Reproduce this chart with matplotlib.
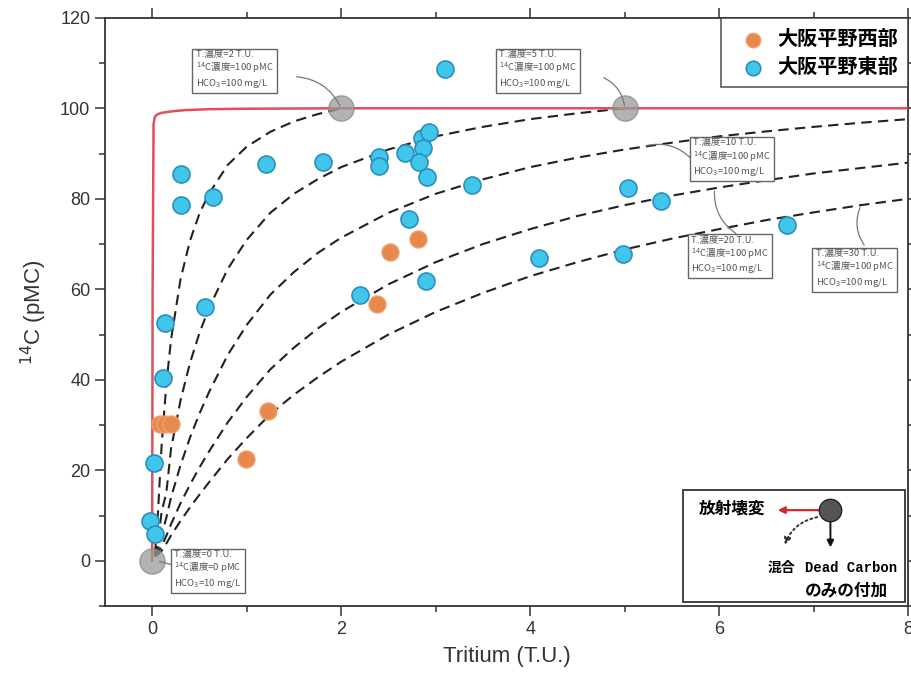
import matplotlib.pyplot as plt
import numpy as np
from matplotlib.patches import Rectangle
from matplotlib.ticker import MultipleLocator

plt.rcParams['font.family'] = ['Liberation Sans', 'Noto Sans CJK JP', 'DejaVu Sans']
JP = ['Noto Sans CJK JP', 'DejaVu Sans']

# measured samples (tritium T.U., 14C pMC)
west_t = [0.08, 0.14, 0.2, 0.99, 1.23, 2.38, 2.52, 2.81]
west_c = [30.3, 30.3, 30.3, 22.4, 33.2, 56.7, 68.2, 71.1]

east_t = [3.10, 0.31, 0.30, 0.64, 1.20, 1.81, 2.40, 2.40, 2.67, 2.85, 2.93, 2.87, 2.82,
          2.91, 3.38, 2.72, 5.03, 5.38, 6.72, 4.09, 4.98, 2.90, 2.20, 0.56, 0.14, 0.11,
          0.02, -0.02, 0.03]
east_c = [108.7, 85.5, 78.6, 80.4, 87.7, 88.1, 89.3, 87.3, 90.1, 93.5, 94.8, 91.2, 88.1,
          84.8, 83.1, 75.5, 82.4, 79.5, 74.2, 66.9, 67.8, 61.8, 58.7, 56.0, 52.5, 40.5,
          21.7, 8.9, 6.0]

# end members
end_t = [0, 2, 5]
end_c = [0, 100, 100]

# decay line (red)
decay_t = [0.0, 0.005, 0.015, 0.03, 0.06, 0.1, 0.2, 0.35, 0.6, 1.0, 2.0, 8.0]
decay_c = [0.0, 60.0, 96.5, 98.2, 98.7, 99.0, 99.3, 99.6, 99.8, 99.9, 100.0, 100.0]

# mixing curves
grid = [0.03, 0.06, 0.1, 0.15, 0.2, 0.3, 0.4, 0.5, 0.6, 0.8, 1.0, 1.25, 1.5, 1.75, 2.0,
        2.5, 3.0, 3.5, 4.0, 4.5, 5.0, 5.5, 6.0, 6.5, 7.0, 7.5, 8.0]
mix_2tu = [1.5, 10.0, 25.4, 39.0, 48.9, 62.2, 70.7, 76.7, 81.1, 87.5, 91.5, 94.8, 97.1,
           98.7, 100.0]
mix_5tu = [1.0, 3.9, 10.8, 15.0, 24.8, 35.4, 43.7, 50.3, 55.8, 64.5, 70.9, 76.9, 81.1,
           84.3, 87.0, 90.9, 93.8, 95.9, 97.6, 98.9, 100.0]
mix_10tu = [1.0, 2.5, 5.7, 9.5, 14.0, 21.1, 27.2, 32.5, 37.2, 45.5, 52.1, 58.8, 63.8, 68.0,
            71.4, 76.9, 81.1, 84.3, 87.0, 89.1, 90.9, 92.4, 93.8, 94.9, 95.9, 96.8, 97.6]
mix_20tu = [1.0, 1.8, 3.2, 5.5, 8.1, 12.7, 16.8, 20.6, 24.1, 30.6, 36.2, 42.3, 47.1, 51.3,
            55.0, 61.1, 66.0, 70.0, 73.3, 76.2, 78.6, 80.7, 82.5, 84.1, 85.6, 86.8, 88.0]
mix_30tu = [1.0, 1.4, 2.2, 3.8, 5.6, 8.8, 11.8, 14.6, 17.3, 22.5, 27.1, 32.4, 36.7, 40.5,
            44.0, 50.0, 55.0, 59.2, 62.9, 66.0, 68.8, 71.2, 73.3, 75.3, 77.0, 78.6, 80.0]

fig = plt.figure(figsize=(9.12, 6.84), dpi=100)
ax = fig.add_axes([0.115, 0.114, 0.881, 0.86])

for ys in [mix_2tu, mix_5tu, mix_10tu, mix_20tu, mix_30tu]:
    ax.plot(grid[:len(ys)], ys, color='#222222', lw=1.5, ls=(0, (5, 3)), zorder=2)

ax.plot(decay_t, decay_c, color='#e0505a', lw=1.8, zorder=3)

ax.scatter(end_t, end_c, s=330, color='#9a9a9a', alpha=0.75, edgecolor='#888888',
           lw=1, zorder=4)

ax.scatter(west_t, west_c, s=150, color='#e8894c', edgecolor='#f0a070', lw=1,
           zorder=5, label='大阪平野西部')
ax.scatter(east_t, east_c, s=150, color='#3fc6ea', edgecolor='#2a8fc0', lw=1.2,
           zorder=5, label='大阪平野東部')

# annotation boxes
boxes = [
    (0.46, 108.5, 'T.濃度=2 T.U.\n$^{14}$C濃度=100 pMC\nHCO$_3$=100 mg/L', (2.0, 100.0), (1.5, 107), -0.3),
    (3.67, 108.5, 'T.濃度=5 T.U.\n$^{14}$C濃度=100 pMC\nHCO$_3$=100 mg/L', (5.0, 100.0), (4.75, 107), -0.3),
    (5.72, 89.0, 'T.濃度=10 T.U.\n$^{14}$C濃度=100 pMC\nHCO$_3$=100 mg/L', (5.2, 91.6), (5.72, 88.5), 0.3),
    (5.70, 67.5, 'T.濃度=20 T.U.\n$^{14}$C濃度=100 pMC\nHCO$_3$=100 mg/L', (5.95, 82.3), (6.2, 72.0), -0.3),
    (7.02, 64.5, 'T.濃度=30 T.U.\n$^{14}$C濃度=100 pMC\nHCO$_3$=100 mg/L', (7.5, 78.6), (7.55, 69.3), -0.3),
    (0.23, -2.0, 'T.濃度=0 T.U.\n$^{14}$C濃度=0 pMC\nHCO$_3$=10 mg/L', (0.05, 0.0), (0.23, -1.0), 0.0),
]
for x, y, txt, tip, base, rad in boxes:
    ax.text(x, y, txt, fontsize=6.8, family=JP, va='center', ha='left', color='#555555',
            linespacing=1.15, zorder=6,
            bbox=dict(boxstyle='square,pad=0.35', fc='white', ec='#666666', lw=1))
    ax.annotate('', xy=tip, xytext=base, zorder=5,
                arrowprops=dict(arrowstyle='-', color='#777777', lw=0.9,
                                connectionstyle=f'arc3,rad={rad}'))

ax.set_xlim(-0.5, 8)
ax.set_ylim(-10, 120)
ax.xaxis.set_major_locator(MultipleLocator(2))
ax.xaxis.set_minor_locator(MultipleLocator(1))
ax.yaxis.set_major_locator(MultipleLocator(20))
ax.yaxis.set_minor_locator(MultipleLocator(10))
ax.tick_params(which='both', direction='out', top=True, right=True, labelsize=13,
               color='#333333', labelcolor='#333333', width=1.1)
ax.tick_params(which='major', length=7)
ax.tick_params(which='minor', length=4)
for s in ax.spines.values():
    s.set_linewidth(1.3)
    s.set_color('#333333')

ax.set_xlabel('Tritium (T.U.)', fontsize=16, color='#333333', labelpad=6)
ax.set_ylabel('$^{14}$C (pMC)', fontsize=16, color='#333333', labelpad=8)

leg = ax.legend(loc='upper right', prop={'family': JP, 'size': 14.5, 'weight': 'bold'},
                frameon=True, fancybox=False, edgecolor='#333333', borderaxespad=0,
                handletextpad=0.1, borderpad=0.5, markerscale=0.85, labelspacing=0.35,
                handlelength=2.2)
leg.get_frame().set_linewidth(1.2)

# process legend (lower right)
ax.add_patch(Rectangle((0.72, 0.007), 0.276, 0.19, transform=ax.transAxes, fc='white',
                       ec='#333333', lw=1.3, zorder=7))
ax.scatter([0.903], [0.163], s=260, color='#555555', edgecolor='#222222', lw=1,
           transform=ax.transAxes, zorder=9)
ax.annotate('', xy=(0.834, 0.163), xytext=(0.893, 0.163), xycoords='axes fraction',
            zorder=8, arrowprops=dict(arrowstyle='-|>', color='#d22a2a', lw=1.6))
ax.annotate('', xy=(0.903, 0.095), xytext=(0.903, 0.148), xycoords='axes fraction',
            zorder=8, arrowprops=dict(arrowstyle='-|>', color='#111111', lw=1.4))
ax.annotate('', xy=(0.845, 0.1), xytext=(0.89, 0.152), xycoords='axes fraction',
            zorder=8, arrowprops=dict(arrowstyle='-|>', color='#333333', lw=1.4, ls=':',
                                      connectionstyle='arc3,rad=0.3'))
ax.text(0.822, 0.166, '放射壊変', transform=ax.transAxes, family=JP, fontsize=12,
        weight='bold', ha='right', va='center', zorder=8)
ax.text(0.842, 0.065, '混合', transform=ax.transAxes, family=JP, fontsize=10,
        weight='bold', ha='center', va='center', zorder=8)
ax.text(0.871, 0.065, 'Dead Carbon', transform=ax.transAxes, family='Liberation Mono',
        fontsize=10, weight='bold', ha='left', va='center', zorder=8)
ax.text(0.871, 0.027, 'のみの付加', transform=ax.transAxes, family=JP, fontsize=12,
        weight='bold', ha='left', va='center', zorder=8)

fig.savefig('out.png', dpi=100)
